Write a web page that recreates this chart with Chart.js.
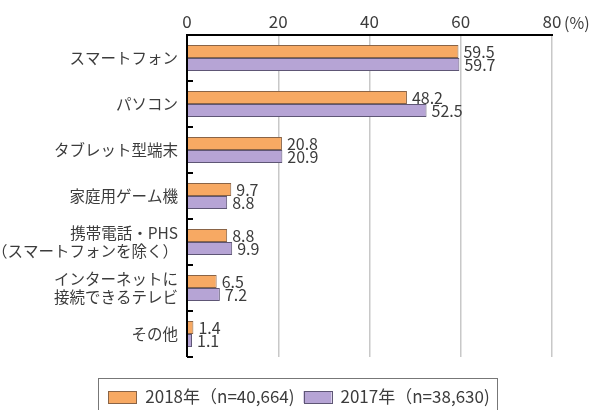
<!DOCTYPE html>
<html><head><meta charset="utf-8">
<style>html,body{margin:0;padding:0;background:#fff}#wrap{width:595px;height:410px;position:relative}</style>
<script src="https://cdn.jsdelivr.net/npm/chart.js@4"></script>
</head><body><div id="wrap"><canvas id="c" width="595" height="410"></canvas></div>
<script>
const categories = [
  'スマートフォン',
  'パソコン',
  'タブレット型端末',
  '家庭用ゲーム機',
  ['携帯電話・PHS', '（スマートフォンを除く）'],
  ['インターネットに', '接続できるテレビ'],
  'その他'
];
const series2018 = [59.5, 48.2, 20.8, 9.7, 8.8, 6.5, 1.4];
const series2017 = [59.7, 52.5, 20.9, 8.8, 9.9, 7.2, 1.1];
const seriesNames = ['2018年（n=40,664)', '2017年（n=38,630)'];
const xTicks = [0, 20, 40, 60, 80];
const unitLabel = '(%)';

const FONT = '"Noto Sans CJK JP", "Noto Sans", sans-serif';
const TXT = '#3c3c3c';

const extras = {
  id: 'extras',
  afterDraw(chart) {
    const ctx = chart.ctx;
    const y = chart.scales.y, x = chart.scales.x;
    const ca = chart.chartArea;
    ctx.save();
    // inner ticks at category boundaries
    ctx.strokeStyle = '#000'; ctx.lineWidth = 2;
    for (let i = 0; i <= categories.length; i++) {
      const py = Math.round(y.getPixelForValue(i - 0.5));
      ctx.beginPath(); ctx.moveTo(ca.left, py); ctx.lineTo(ca.left + 6, py); ctx.stroke();
    }
    // left axis line
    ctx.beginPath(); ctx.moveTo(ca.left, ca.top); ctx.lineTo(ca.left, ca.bottom); ctx.stroke();
    // top axis line
    ctx.beginPath(); ctx.moveTo(ca.left - 1, ca.top); ctx.lineTo(ca.right + 1, ca.top); ctx.stroke();
    // unit label
    ctx.fillStyle = TXT; ctx.font = '16px ' + FONT; ctx.textBaseline = 'middle'; ctx.textAlign = 'left';
    const lastX = x.getPixelForValue(xTicks[xTicks.length - 1]);
    ctx.fillText(unitLabel, lastX + 12, ca.top - 12);
    // value labels
    ctx.font = '16px ' + FONT; ctx.fillStyle = TXT;
    chart.data.datasets.forEach((ds, di) => {
      const meta = chart.getDatasetMeta(di);
      meta.data.forEach((bar, i) => {
        ctx.fillText(ds.data[i].toFixed(1), bar.x + 5, bar.y + 0.5);
      });
    });
    // legend (custom, with border)
    ctx.font = '17px ' + FONT;
    const ds = chart.data.datasets;
    const bw = 28, bh = 12, gapBT = 9, gapItem = 9;
    const widths = ds.map(d => ctx.measureText(d.label).width);
    const total = ds.length * (bw + gapBT) + widths.reduce((a, b) => a + b, 0) + gapItem * (ds.length - 1);
    const cx = 299, cy = 397;
    let lx = cx - total / 2;
    ctx.strokeStyle = '#777'; ctx.lineWidth = 1;
    ctx.strokeRect(Math.round(lx - 10) + 0.5, 378.5, Math.round(total + 18), 40);
    ds.forEach((d, i) => {
      ctx.fillStyle = d.backgroundColor;
      ctx.fillRect(lx, cy - bh / 2, bw, bh);
      ctx.strokeStyle = d.borderColor; ctx.lineWidth = 1;
      ctx.strokeRect(Math.round(lx) + 0.5, Math.round(cy - bh / 2) + 0.5, bw, bh);
      lx += bw + gapBT;
      ctx.fillStyle = TXT; ctx.textAlign = 'left'; ctx.textBaseline = 'middle';
      ctx.fillText(d.label, lx, cy);
      lx += widths[i] + gapItem;
    });
    ctx.restore();
  }
};

new Chart(document.getElementById('c'), {
  type: 'bar',
  data: {
    labels: categories,
    datasets: [
      { label: seriesNames[0], data: series2018, backgroundColor: '#F7A963', borderColor: '#8a6446', borderWidth: 1, borderSkipped: 'left' },
      { label: seriesNames[1], data: series2017, backgroundColor: '#B6A4D5', borderColor: '#5e5675', borderWidth: 1, borderSkipped: 'left' }
    ]
  },
  options: {
    indexAxis: 'y',
    responsive: false,
    animation: false,
    devicePixelRatio: 1,
    layout: { padding: { top: 6, right: 43, bottom: 53, left: 0 } },
    datasets: { bar: { categoryPercentage: 0.57, barPercentage: 1.0 } },
    scales: {
      x: {
        position: 'top',
        min: 0, max: 80,
        afterBuildTicks(s) { s.ticks = xTicks.map(v => ({ value: v })); },
        ticks: { color: TXT, font: { family: FONT, size: 17 }, padding: 3 },
        grid: { color: '#c8c8c8', lineWidth: c => c.tick && c.tick.value === 0 ? 0 : 1.5, drawTicks: false },
        border: { display: false },
        afterFit(s) { s.height = 29; }
      },
      y: {
        ticks: { color: TXT, font: { family: FONT, size: 15.5, lineHeight: 1.18 }, padding: 9, autoSkip: false },
        grid: { display: false, drawTicks: false },
        border: { display: false },
        afterFit(s) { s.width = 187; }
      }
    },
    plugins: {
      legend: { display: false },
      tooltip: { enabled: false }
    }
  },
  plugins: [extras]
});
</script></body></html>
